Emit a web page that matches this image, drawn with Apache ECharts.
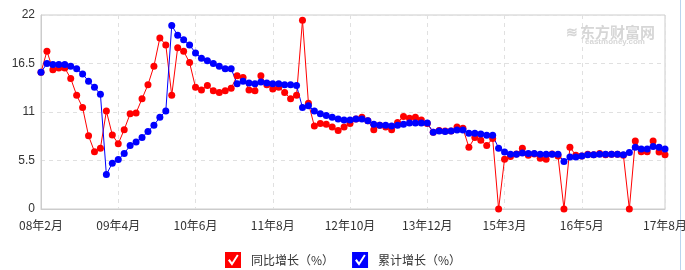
<!DOCTYPE html>
<html><head><meta charset="utf-8">
<script src="https://cdn.jsdelivr.net/npm/echarts@6/dist/echarts.min.js"></script>
<style>html,body{margin:0;padding:0;background:#fff;}#c{width:685px;height:270px;}</style>
</head><body><div id="c"></div>
<script>
var categories = [
'08年2月','08年3月','08年4月','08年5月','08年6月','08年7月','08年8月','08年9月','08年10月','08年11月','08年12月',
'09年2月','09年3月','09年4月','09年5月','09年6月','09年7月','09年8月','09年9月','09年10月','09年11月','09年12月',
'10年2月','10年3月','10年4月','10年5月','10年6月','10年7月','10年8月','10年9月','10年10月','10年11月','10年12月',
'11年2月','11年3月','11年4月','11年5月','11年6月','11年7月','11年8月','11年9月','11年10月','11年11月','11年12月',
'12年2月','12年3月','12年4月','12年5月','12年6月','12年7月','12年8月','12年9月','12年10月','12年11月','12年12月',
'13年2月','13年3月','13年4月','13年5月','13年6月','13年7月','13年8月','13年9月','13年10月','13年11月','13年12月',
'14年2月','14年3月','14年4月','14年5月','14年6月','14年7月','14年8月','14年9月','14年10月','14年11月','14年12月',
'15年2月','15年3月','15年4月','15年5月','15年6月','15年7月','15年8月','15年9月','15年10月','15年11月','15年12月',
'16年2月','16年3月','16年4月','16年5月','16年6月','16年7月','16年8月','16年9月','16年10月','16年11月','16年12月',
'17年2月','17年3月','17年4月','17年5月','17年6月','17年7月','17年8月'
];
var yoyGrowth = [
15.5,17.9,15.8,16.0,16.0,14.8,12.9,11.5,8.3,6.5,6.9,
11.1,8.4,7.4,9.0,10.8,10.9,12.5,14.1,16.2,19.4,18.6,
12.9,18.3,17.9,16.6,13.8,13.5,14.0,13.4,13.2,13.4,13.7,
15.1,14.9,13.5,13.4,15.1,14.1,13.6,13.8,13.2,12.5,12.9,
21.4,12.0,9.4,9.7,9.6,9.3,8.9,9.3,9.7,10.2,10.4,
10.0,9.0,9.5,9.3,9.0,9.8,10.5,10.3,10.4,10.1,9.7,
8.7,8.9,8.85,8.85,9.3,9.15,7.0,8.1,7.8,7.2,8.0,
0,5.65,5.95,6.25,6.9,6.1,6.25,5.75,5.65,6.25,6.0,
0,7.0,6.1,6.0,6.2,6.15,6.3,6.15,6.2,6.2,6.1,
0,7.7,6.5,6.5,7.7,6.45,6.15
];
var cumGrowth = [
15.5,16.5,16.4,16.4,16.4,16.2,15.9,15.3,14.5,13.8,13.0,
3.9,5.2,5.6,6.3,7.2,7.6,8.1,8.8,9.5,10.4,11.1,
20.8,19.7,19.2,18.6,17.7,17.1,16.8,16.5,16.2,15.9,15.9,
14.2,14.5,14.3,14.2,14.4,14.3,14.2,14.2,14.1,14.1,14.0,
11.5,11.7,11.1,10.8,10.6,10.4,10.2,10.1,10.1,10.2,10.2,
10.0,9.6,9.5,9.5,9.4,9.5,9.6,9.75,9.75,9.75,9.75,
8.7,8.85,8.8,8.85,8.95,8.95,8.6,8.6,8.5,8.35,8.35,
6.9,6.45,6.2,6.2,6.35,6.3,6.3,6.2,6.2,6.2,6.2,
5.4,5.9,5.9,6.0,6.15,6.15,6.2,6.2,6.2,6.2,6.15,
6.4,7.0,6.8,6.8,7.1,7.0,6.8
];
var seriesNames = ['同比增长（%）','累计增长（%）'];
var yTicks = {min:0, max:22, interval:5.5};

var checkIcon = 'path://M0 0L16 0L16 16L0 16Z M3 8.5L7 13.8L13.6 3.6L12 2.6L7 10.3L4.6 7Z';
var lastIdx = categories.length - 1;
var labelInterval = function(idx){
  if (idx === lastIdx) return true;
  if (lastIdx - idx < 13) return false;
  return idx % 13 === 0;
};

var chart = echarts.init(document.getElementById('c'), null, {renderer:'canvas'});
chart.setOption({
  animation:false,
  backgroundColor:'#fff',
  grid:{left:41,right:20,top:15,bottom:61,show:true,borderColor:'#ccc',borderWidth:1,outerBoundsMode:'none',containLabel:false},
  legend:{
    left:225, top:252, padding:0, itemWidth:16, itemHeight:16, itemGap:18,
    textStyle:{color:'#333',fontSize:12,fontFamily:'"Noto Sans CJK SC", sans-serif',padding:[0,0,0,5]},
    data:[
      {name:seriesNames[0], icon:checkIcon, itemStyle:{color:'#ff0000'}},
      {name:seriesNames[1], icon:checkIcon, itemStyle:{color:'#0000ff'}}
    ]
  },
  xAxis:{
    type:'category', data:categories, boundaryGap:false,
    axisLine:{lineStyle:{color:'#ccc'}},
    axisTick:{show:false},
    axisLabel:{interval:labelInterval, color:'#333', fontSize:12, margin:10, fontFamily:'"Noto Sans CJK SC", sans-serif', showMaxLabel:true, hideOverlap:false},
    splitLine:{show:true, interval:labelInterval, lineStyle:{color:'#e0e0e0', type:[4,4]}}
  },
  yAxis:{
    type:'value', min:yTicks.min, max:yTicks.max, interval:yTicks.interval,
    axisLine:{show:true,lineStyle:{color:'#ccc'}},
    axisTick:{show:false},
    axisLabel:{color:'#333', fontSize:12, margin:6, fontFamily:'sans-serif'},
    splitLine:{show:true, lineStyle:{color:'#e0e0e0', type:[4,4]}}
  },
  graphic:[
    {type:'text', left:580, top:25, style:{text:'东方财富网', fill:'#d6d6d6', font:'bold 15px "Noto Sans CJK SC", sans-serif'}},
    {type:'text', left:585, top:38, style:{text:'eastmoney.com', fill:'#d6d6d6', font:'bold 8px sans-serif'}},
    {type:'text', left:566, top:26, style:{text:'≋', fill:'#d6d6d6', font:'bold 14px sans-serif'}},
    {type:'line', shape:{x1:680.5,y1:0,x2:680.5,y2:270}, style:{stroke:'#b9d4ef', lineWidth:1}}
  ],
  series:[
    {name:seriesNames[0], type:'line', data:yoyGrowth, symbol:'circle', symbolSize:7, showAllSymbol:true,
     itemStyle:{color:'#ff0000'}, lineStyle:{color:'#ff0000', width:1}},
    {name:seriesNames[1], type:'line', data:cumGrowth, symbol:'circle', symbolSize:7, showAllSymbol:true,
     itemStyle:{color:'#0000ff'}, lineStyle:{color:'#0000ff', width:1}}
  ]
});
</script></body></html>
